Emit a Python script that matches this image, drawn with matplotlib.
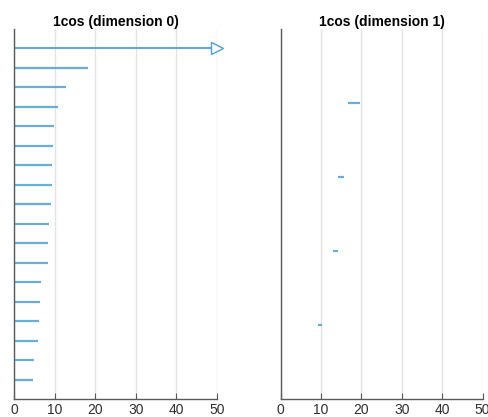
import numpy as np
import matplotlib
matplotlib.use("Agg")
import matplotlib.pyplot as plt

plt.rcParams['font.family'] = ['Liberation Sans', 'DejaVu Sans']

# persistence intervals read off the barcode (birth, death); inf = never dies
dim0_birth = [0] * 18
dim0_death = [np.inf, 18.1, 12.7, 10.7, 9.8, 9.55, 9.2, 9.2, 9.0,
              8.5, 8.3, 8.25, 6.6, 6.3, 6.0, 5.8, 4.85, 4.6]
dim1_birth = [16.6, 14.1, 12.9, 9.2]
dim1_death = [19.6, 15.6, 14.1, 10.2]
titles = ['1cos (dimension 0)', '1cos (dimension 1)']
xmax = 50

bar_color = '#4f9fd8'
axis_color = '#5a5a5a'

fig = plt.figure(figsize=(4.89, 4.17), dpi=100)
ax0 = fig.add_axes([0.0292, 0.0432, 0.414, 0.8873])
ax1 = fig.add_axes([0.574, 0.0432, 0.413, 0.8873])

for ax, births, deaths, title in [(ax0, dim0_birth, dim0_death, titles[0]),
                                  (ax1, dim1_birth, dim1_death, titles[1])]:
    n = len(births)
    for i, (b, d) in enumerate(zip(births, deaths)):
        y = n - i
        if np.isinf(d):
            ax.plot([b, xmax], [y, y], color=bar_color, lw=1.3, solid_capstyle='butt')
            ax.plot(xmax, y, marker='>', ms=8, mfc='white', mec=bar_color,
                    mew=1.0, clip_on=False)
        else:
            ax.plot([b, d], [y, y], color=bar_color, lw=1.6, alpha=0.85,
                    solid_capstyle='butt')
    ax.set_xlim(0, xmax)
    ax.set_ylim(0, n + 1)
    ax.set_xticks([0, 10, 20, 30, 40, 50])
    ax.set_yticks([])
    ax.grid(axis='x', color='#e3e3e3', lw=1.0)
    ax.set_axisbelow(True)
    for s in ['top', 'right']:
        ax.spines[s].set_visible(False)
    for s in ['left', 'bottom']:
        ax.spines[s].set_color(axis_color)
        ax.spines[s].set_linewidth(1.0)
    ax.tick_params(axis='x', direction='in', length=4, color=axis_color,
                   labelsize=10, labelcolor='#303030', pad=3)
    ax.set_title(title, fontsize=10, fontweight='bold', pad=2.5)

fig.savefig('out.png', dpi=100)
